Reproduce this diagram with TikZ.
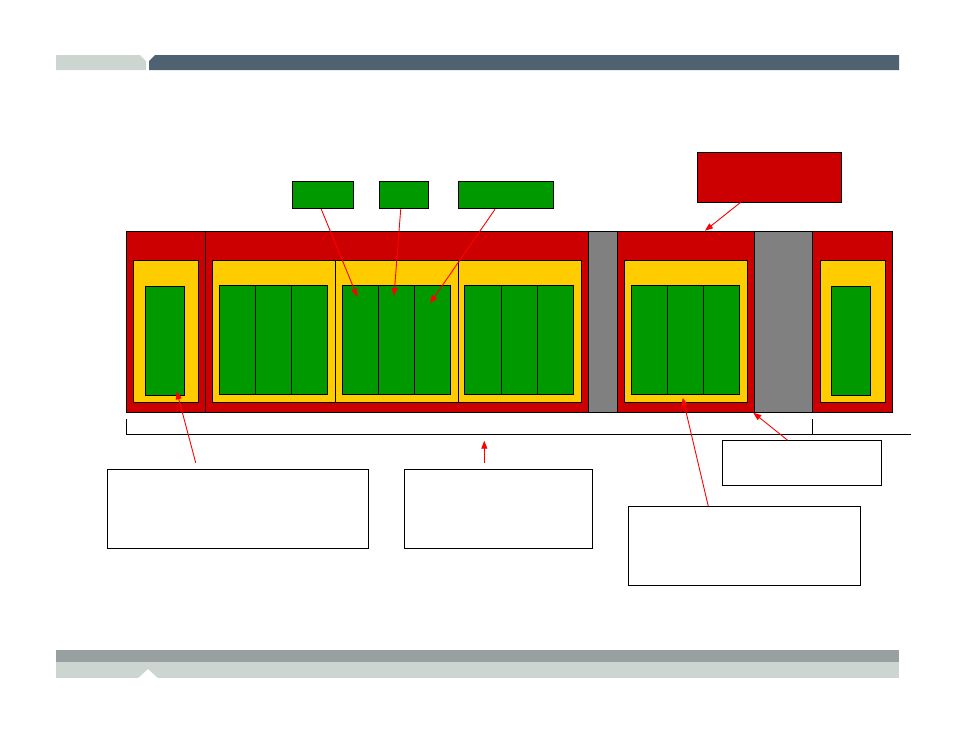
\documentclass[tikz,border=0pt]{standalone}
\usetikzlibrary{arrows.meta,calc}
\definecolor{cred}{HTML}{CC0000}
\definecolor{cyel}{HTML}{FFCC00}
\definecolor{cgrn}{HTML}{009900}
\definecolor{cgry}{HTML}{808080}
\definecolor{bandDark}{HTML}{4F6272}
\definecolor{bandLight}{HTML}{CDD5D0}
\definecolor{bandMid}{HTML}{98A0A1}
\newcommand\bx[6]{\node[#1, anchor=north west, minimum width={(#4)-(#2)}, minimum height={(#5)-(#3)}] (#6) at (#2,#3) {};}
\begin{document}
\begin{tikzpicture}[x=1pt,y=-1pt,
  base/.style={draw=black, line width=1pt, inner sep=0pt, outer sep=0pt},
  redbox/.style={base, fill=cred},
  yelbox/.style={base, fill=cyel},
  grnbox/.style={base, fill=cgrn},
  grybox/.style={base, fill=cgry},
  txtbox/.style={base, fill=white},
  callout/.style={draw=red, line width=0.9pt, -{Triangle[length=8pt,width=6pt]}},
  bracket/.style={draw=black, line width=1pt}]
\useasboundingbox (0,0) rectangle (954,737);
% top banner
\fill[bandLight] (56,55) -- (140,55) -- (146,61) -- (146,70) -- (56,70) -- cycle;
\fill[bandDark] (155,55) -- (899,55) -- (899,70) -- (149,70) -- (149,61) -- cycle;
% bottom banner
\fill[bandMid] (56,650) rectangle (899,662);
\fill[bandLight] (56,662) -- (138,662) -- (138,678) -- (56,678) -- cycle;
\fill[bandLight] (158,662) -- (899,662) -- (899,678) -- (158,678) -- cycle;
\fill[bandLight] (138,662) -- (158,662) -- (158,678) -- (148,669) -- (138,678) -- cycle;
% red sections
\bx{redbox}{126.3}{231.3}{205.7}{412.3}{r1}
\bx{redbox}{205.7}{231.3}{588.3}{412.3}{r2}
\bx{grybox}{588.3}{231.3}{617.3}{412.3}{g1}
\bx{redbox}{617.3}{231.3}{754.3}{412.3}{r3}
\bx{grybox}{754.3}{231.3}{812.3}{412.3}{g2}
\bx{redbox}{812.3}{231.3}{892.3}{412.3}{r4}
% yellow
\bx{yelbox}{133.3}{260.3}{198.7}{402.3}{y1}
\bx{yelbox}{212.3}{260.3}{335.7}{402.3}{y2}
\bx{yelbox}{335.7}{260.3}{458.3}{402.3}{y3}
\bx{yelbox}{458.3}{260.3}{581.7}{402.3}{y4}
\bx{yelbox}{624.3}{260.3}{747.3}{402.3}{y5}
\bx{yelbox}{820.3}{260.3}{885.3}{402.3}{y6}
% green
\bx{grnbox}{145.3}{286.3}{184.7}{395.3}{s1}
\bx{grnbox}{219.3}{285.3}{255.3}{394.3}{a1}
\bx{grnbox}{255.3}{285.3}{291.7}{394.3}{a2}
\bx{grnbox}{291.7}{285.3}{327.7}{394.3}{a3}
\bx{grnbox}{342.3}{285.3}{378.7}{394.3}{b1}
\bx{grnbox}{378.7}{285.3}{414.7}{394.3}{b2}
\bx{grnbox}{414.7}{285.3}{450.7}{394.3}{b3}
\bx{grnbox}{464.3}{285.3}{501.7}{394.3}{c1}
\bx{grnbox}{501.7}{285.3}{537.7}{394.3}{c2}
\bx{grnbox}{537.7}{285.3}{573.7}{394.3}{c3}
\bx{grnbox}{631.3}{285.3}{667.7}{394.3}{d1}
\bx{grnbox}{667.7}{285.3}{703.7}{394.3}{d2}
\bx{grnbox}{703.7}{285.3}{739.7}{394.3}{d3}
\bx{grnbox}{831.3}{286.3}{870.3}{395.3}{s2}
% top labels
\bx{grnbox}{292.3}{181.3}{353.3}{208.3}{t1}
\bx{grnbox}{379.3}{181.3}{428.3}{208.3}{t2}
\bx{grnbox}{458.3}{181.3}{553.3}{208.3}{t3}
\bx{redbox}{697.3}{152.3}{841.7}{202.3}{tr}
% text boxes
\bx{txtbox}{107.3}{469.3}{368.7}{548.3}{ta}
\bx{txtbox}{404.3}{469.3}{592.7}{548.3}{tb}
\bx{txtbox}{722.3}{440.3}{881.7}{485.3}{tc}
\bx{txtbox}{628.3}{506.3}{860.3}{585.3}{td}
% bracket
\coordinate (k1) at (126.3,419);
\coordinate (k2) at (126.3,434);
\coordinate (k3) at (910.7,434);
\coordinate (k4) at (812.3,419);
\coordinate (k5) at (812.3,434);
\draw[bracket] (k1) -- (k2) -- (k3);
\draw[bracket] (k4) -- (k5);
% callouts
\coordinate (e1) at (357.3,296.7);
\coordinate (e2) at (394,296);
\coordinate (e3) at (430,303.3);
\coordinate (e4) at (705,230.7);
\coordinate (e5) at (176.7,391.3);
\coordinate (e6) at (484.3,440.7);
\coordinate (e7) at (682.7,397.7);
\coordinate (e8) at (753.3,412.7);
\draw[callout] ($(t1.south west)+(29,1)$) -- (e1);
\draw[callout] ($(t2.south west)+(21.4,1)$) -- (e2);
\draw[callout] ($(t3.south west)+(36.7,1)$) -- (e3);
\draw[callout] ($(tr.south west)+(43.4,0)$) -- (e4);
\draw[callout] ($(ta.north west)+(88.4,-6.6)$) -- (e5);
\draw[callout] ($(tb.north west)+(80,-6.6)$) -- (e6);
\draw[callout] ($(td.north west)+(80,0)$) -- (e7);
\draw[callout] ($(tc.north west)+(65.4,0)$) -- (e8);
\end{tikzpicture}
\end{document}
